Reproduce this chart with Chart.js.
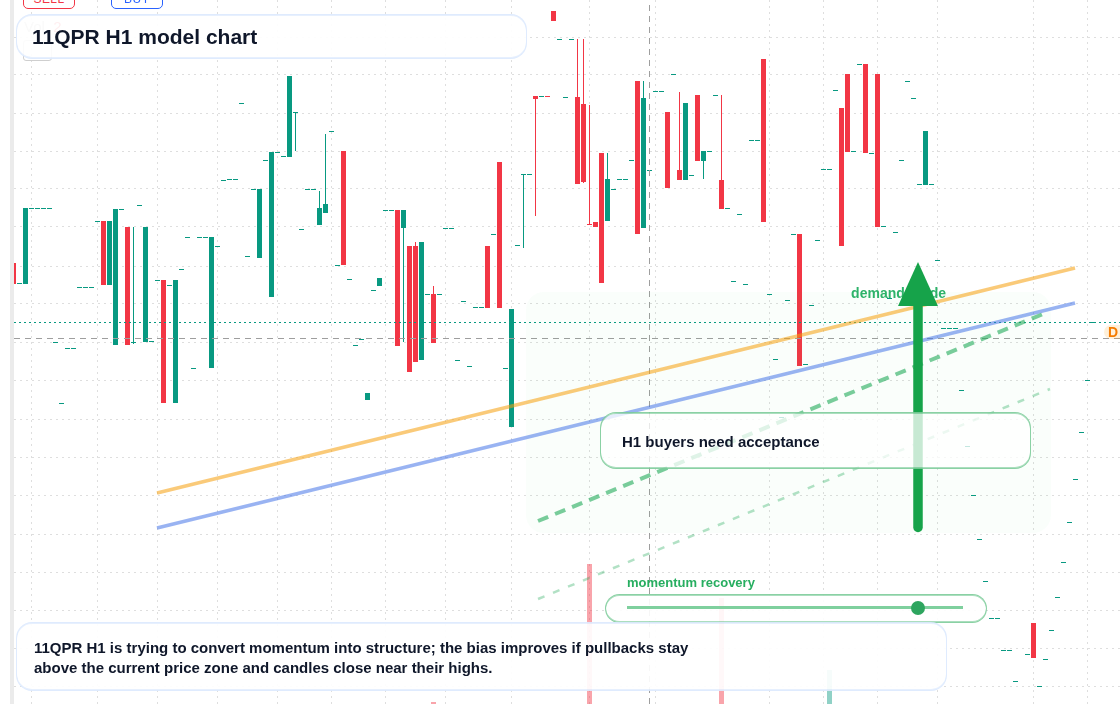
<!DOCTYPE html>
<html>
<head>
<meta charset="utf-8">
<title>11QPR H1 model chart</title>
<script src="https://cdn.jsdelivr.net/npm/chart.js@4"></script>
<style>
  html, body { margin: 0; padding: 0; background: #fff; overflow: hidden; }
  body { width: 1120px; height: 704px; position: relative; font-family: "Liberation Sans", Arial, sans-serif; }
  canvas { position: absolute; left: 0; top: 0; }
  .abs { position: absolute; box-sizing: border-box; white-space: nowrap; }
  .strip { left: 10px; top: 0; width: 4px; height: 704px; background: #ebebeb; }
  .badge { top: -16px; width: 52px; height: 25px; border-radius: 5px; background: #fff; font-size: 12px; line-height: 29px; text-align: center; letter-spacing: .4px; }
  .panel { background: rgba(255, 255, 255, .92); border: 1px solid rgba(59, 130, 246, .16); box-shadow: inset 0 1px 0 rgba(59, 130, 246, .12), inset 0 -1px 0 rgba(59, 130, 246, .12); border-radius: 16px; color: #0f172a; font-weight: 700; }
  .green { background: rgba(255, 255, 255, .76); border-color: rgba(22, 163, 74, .5); box-shadow: inset 0 1px 0 rgba(22, 163, 74, .36), inset 0 -1px 0 rgba(22, 163, 74, .36); }
</style>
</head>
<body>
<div class="abs strip"></div>
<canvas id="chart" width="1120" height="704"></canvas>

<div class="abs badge" style="left:23px;border:1px solid #f23645;color:#f23645">SELL</div>
<div class="abs badge" style="left:111px;border:1px solid #2962ff;color:#2962ff">BUY</div>
<div class="abs" style="left:24px;top:18px;font-size:15px;color:#b9b9b9">Vol&nbsp; <span style="color:#f23645">2</span></div>
<div class="abs" style="left:23px;top:40px;width:29px;height:21px;border:1px solid #cfcfcf;border-radius:3px"></div>

<div class="abs panel" style="left:16px;top:14px;width:511px;height:45px;font-size:21px;line-height:43px;padding-left:15px">11QPR H1 model chart</div>
<div class="abs panel green" style="left:600px;top:412px;width:431px;height:57px;font-size:15px;line-height:57px;padding-left:21px">H1 buyers need acceptance</div>

<div class="abs" style="left:627px;top:575px;font-size:13px;line-height:15px;font-weight:700;color:#27ae60">momentum recovery</div>
<div class="abs panel green" style="left:605px;top:594px;width:382px;height:29px;border-radius:15px;background:rgba(255,255,255,.9)"></div>
<div class="abs" style="left:627px;top:606px;width:336px;height:3px;background:#7fd09e"></div>
<div class="abs" style="left:911px;top:601px;width:14px;height:14px;border-radius:50%;background:#2ea55f"></div>

<div class="abs panel" style="left:16px;top:622px;width:931px;height:69px;font-size:15px;line-height:20px;padding:15px 0 0 17px">11QPR H1 is trying to convert momentum into structure; the bias improves if pullbacks stay<br>above the current price zone and candles close near their highs.</div>

<div class="abs" style="left:1104px;top:325px;width:30px;height:14px;border-radius:7px;background:rgba(255,152,0,.15);color:#f57c00;font-size:14px;font-weight:700;line-height:14px;padding-left:4px">D</div>

<script>
// candle index along the time axis, price in chart units (no labels visible in the picture)
const redIdx = [0, 15, 19, 25, 55, 64, 66, 67, 70, 79, 81, 87, 90, 94, 95, 97, 98, 104, 109, 111, 114, 118, 125, 131, 138, 139, 142, 144, 170];
const redHigh = [441, 483, 477, 424, 553, 494, 458, 458, 410, 458, 542, 608, 693, 607, 600, 482, 551, 623, 592, 534, 609, 524, 645, 470, 596, 630, 640, 630, 81];
const redLow = [420, 419, 359, 301, 439, 358, 332, 342, 361, 396, 396, 605, 683, 520, 522, 477, 421, 470, 516, 524, 543, 495, 482, 338, 458, 552, 551, 477, 46];

const greenIdx = [2, 16, 17, 22, 27, 33, 41, 43, 46, 51, 52, 59, 61, 65, 68, 83, 99, 105, 112, 115, 152];
const greenHigh = [496, 483, 495, 477, 424, 467, 515, 552, 628, 496, 500, 311, 426, 494, 462, 395, 525, 606, 601, 553, 573];
const greenLow = [420, 419, 359, 362, 301, 336, 446, 407, 547, 479, 491, 304, 418, 476, 344, 277, 483, 476, 524, 543, 519];

const redWickIdx = [67, 70, 87, 94, 95, 96, 111, 118];
const redWickHigh = [462, 418, 605, 665, 665, 599, 612, 609];
const redWickLow = [458, 410, 488, 607, 521, 479, 534, 524];

const greenWickIdx = [20, 47, 51, 52, 65, 85, 99, 105, 115];
const greenWickHigh = [477, 592, 513, 570, 476, 530, 551, 623, 543];
const greenWickLow = [360, 553, 496, 500, 362, 456, 525, 606, 525];

// candles that opened and closed at the same price
const flatIdx = [1, 3, 4, 5, 6, 7, 8, 9, 10, 11, 12, 13, 14, 18, 20, 21, 23, 24, 26, 28, 29, 30, 31, 32, 34, 35, 36, 37, 38, 39, 40, 42, 44, 45, 47, 48, 49, 50, 53, 54, 56, 57, 58, 60, 62, 63, 69, 71, 72, 73, 74, 75, 76, 77, 78, 80, 82, 84, 85, 86, 88, 91, 92, 93, 100, 101, 102, 103, 106, 107, 108, 110, 113, 116, 117, 119, 120, 121, 122, 123, 124, 126, 127, 128, 129, 130, 132, 133, 134, 135, 136, 137, 140, 141, 143, 145, 146, 147, 148, 149, 150, 151, 153, 154, 155, 156, 157, 158, 159, 160, 161, 162, 163, 164, 165, 166, 167, 169, 171, 172, 173, 174, 175, 176, 177, 178, 179, 180];
const flatPrice = [420, 495, 495, 495, 495, 361, 300, 355, 355, 416, 416, 416, 482, 494, 361, 498, 362, 423, 418, 434, 466, 335, 466, 466, 457, 523, 524, 524, 600, 447, 514, 543, 551, 547, 591, 474, 514, 514, 572, 438, 424, 358, 364, 413, 493, 493, 409, 409, 475, 475, 343, 402, 337, 396, 396, 469, 335, 458, 529, 529, 607, 664, 606, 664, 514, 524, 524, 543, 533, 612, 612, 629, 528, 552, 608, 495, 422, 489, 419, 563, 563, 409, 344, 286, 403, 469, 339, 398, 463, 534, 534, 613, 552, 639, 550, 477, 405, 471, 543, 622, 605, 519, 519, 443, 375, 375, 375, 313, 257, 208, 164, 122, 85, 85, 53, 53, 22, 49, 17, 44, 73, 106, 141, 181, 224, 271, 323, 381];
const redFlatIdx = [89, 96];
const redFlatPrice = [607, 479];

const redVolumeIdx = [70, 96, 118];
const redVolume = [2, 140, 106];
const greenVolumeIdx = [136];
const greenVolume = [34];

const priceGrid = [18, 56, 94, 132, 170, 209, 247, 285, 324, 362, 400, 438, 477, 515, 553, 591, 630, 667];
const timeGrid = [3, 14, 24, 34, 44, 53, 62, 72, 83, 96, 107, 126, 135, 144, 154, 170, 179];

const orangeTrendX = [23.92, 176.92];
const orangeTrend = [211, 436];
const blueTrendX = [23.92, 176.92];
const blueTrend = [176, 401];
const guideX = [87.42, 172.42];
const guide = [183, 392];
const lowerGuideX = [87.42, 172.75];
const lowerGuide = [105, 315];

const timeMin = 1 / 12;
const timeMax = 184 + 5 / 12;
const lastPrice = 381.5;
const crossPrice = 365.5;
const crossIdx = 106;

const arrowIdx = 150.75;
const arrowTail = 176.5;
const arrowNeck = 399;
const arrowTip = 442;
const arrowHalfWidth = 3.33;

const zoneIdx = [85.42, 172.9];
const zonePrice = [171, 412];

const RED = '#f23645';
const GREEN = '#089981';

const pairs = (xs, ys) => xs.map((x, i) => ({ x, y: ys[i] }));
const spans = (xs, highs, lows) => xs.map((x, i) => ({ x, y: [lows[i], highs[i]] }));
const flats = (xs, ys) => xs.map((x, i) => ({ x, y: [ys[i], ys[i] + 1] }));

const barSet = (data, color, thickness, order) => ({
  type: 'bar',
  data,
  backgroundColor: color,
  barThickness: thickness,
  inflateAmount: 0,
  grouped: false,
  order,
});

const lineSet = (data, color, width, dash, order, extra) => ({
  type: 'line',
  data,
  borderColor: color,
  borderWidth: width,
  borderDash: dash,
  pointRadius: 0,
  tension: 0,
  order,
  ...extra,
});

const datasets = [
  barSet(spans(redVolumeIdx, redVolume, redVolume.map(() => 0)), 'rgba(242,54,69,.45)', 5, 20),
  barSet(spans(greenVolumeIdx, greenVolume, greenVolume.map(() => 0)), 'rgba(8,153,129,.45)', 5, 20),
  barSet(spans(redWickIdx, redWickHigh, redWickLow), RED, 1, 19),
  barSet(spans(greenWickIdx, greenWickHigh, greenWickLow), GREEN, 1, 19),
  barSet(spans(redIdx, redHigh, redLow), RED, 5, 18),
  barSet(spans(greenIdx, greenHigh, greenLow), GREEN, 5, 18),
  barSet(flats(flatIdx, flatPrice), GREEN, 5, 17),
  barSet(flats(redFlatIdx, redFlatPrice), RED, 5, 17),
  lineSet(pairs([timeMin, timeMax], [lastPrice, lastPrice]), GREEN, 1, [2, 3], 16),
  lineSet(pairs([timeMin, timeMax], [crossPrice, crossPrice]), '#9e9e9e', 1, [6, 5], 15),
  lineSet(pairs([crossIdx, crossIdx], [0, 704]), '#9e9e9e', 1, [6, 5], 14),
  lineSet(pairs(orangeTrendX, orangeTrend), 'rgba(245,158,11,.55)', 3.5, [], 10, { zoneLayer: true }),
  lineSet(pairs(blueTrendX, blueTrend), 'rgba(59,110,230,.52)', 3.5, [], 9),
  lineSet(pairs(guideX, guide), 'rgba(34,170,90,.6)', 4, [11, 7.4], 8),
  lineSet(pairs(lowerGuideX, lowerGuide), 'rgba(34,170,90,.35)', 2.5, [7, 9.2], 7),
  lineSet(pairs([arrowIdx, arrowIdx], [arrowTail, arrowNeck]), '#16a34a', 9.5, [], 6, { borderCapStyle: 'round', arrowShaft: true }),
];

// demand zone and its label go under the trend lines, the arrow head goes on the shaft
const overlayPlugin = {
  id: 'overlay',
  beforeDatasetDraw(chart, args) {
    if (!chart.data.datasets[args.index].zoneLayer) return;
    const { ctx, scales: { x, y } } = chart;
    const left = x.getPixelForValue(zoneIdx[0]);
    const right = x.getPixelForValue(zoneIdx[1]);
    const top = y.getPixelForValue(zonePrice[1]);
    const bottom = y.getPixelForValue(zonePrice[0]);
    ctx.save();
    ctx.fillStyle = 'rgba(34,197,94,.025)';
    ctx.beginPath();
    ctx.roundRect(left, top, right - left, bottom - top, 18);
    ctx.fill();
    ctx.fillStyle = '#2eb36a';
    ctx.font = 'bold 14px "Liberation Sans", Arial, sans-serif';
    ctx.textBaseline = 'alphabetic';
    ctx.fillText('demand guide', x.getPixelForValue(139.6), y.getPixelForValue(406));
    ctx.restore();
  },
  afterDatasetDraw(chart, args) {
    if (!chart.data.datasets[args.index].arrowShaft) return;
    const { ctx, scales: { x, y } } = chart;
    ctx.save();
    ctx.fillStyle = '#16a34a';
    ctx.beginPath();
    ctx.moveTo(x.getPixelForValue(arrowIdx), y.getPixelForValue(arrowTip));
    ctx.lineTo(x.getPixelForValue(arrowIdx + arrowHalfWidth), y.getPixelForValue(arrowNeck - 1));
    ctx.lineTo(x.getPixelForValue(arrowIdx - arrowHalfWidth), y.getPixelForValue(arrowNeck - 1));
    ctx.closePath();
    ctx.fill();
    ctx.restore();
  },
};

const dottedGrid = {
  color: '#dedede',
  lineWidth: 1,
  drawTicks: false,
  offset: false,
};

new Chart(document.getElementById('chart'), {
  data: { datasets },
  plugins: [overlayPlugin],
  options: {
    responsive: false,
    animation: false,
    devicePixelRatio: 1,
    layout: { padding: { left: 14, right: 0, top: 0, bottom: 0 } },
    plugins: { legend: { display: false }, tooltip: { enabled: false }, title: { display: false } },
    scales: {
      x: {
        type: 'linear',
        min: timeMin,
        max: timeMax,
        offset: false,
        grid: dottedGrid,
        border: { display: false, dash: [2, 4] },
        ticks: { display: false },
        afterBuildTicks: (axis) => { axis.ticks = timeGrid.map((value) => ({ value })); },
      },
      y: {
        type: 'linear',
        min: 0,
        max: 704,
        grid: dottedGrid,
        border: { display: false, dash: [2, 4] },
        ticks: { display: false },
        afterBuildTicks: (axis) => { axis.ticks = priceGrid.map((value) => ({ value })); },
      },
    },
  },
});
</script>
</body>
</html>
